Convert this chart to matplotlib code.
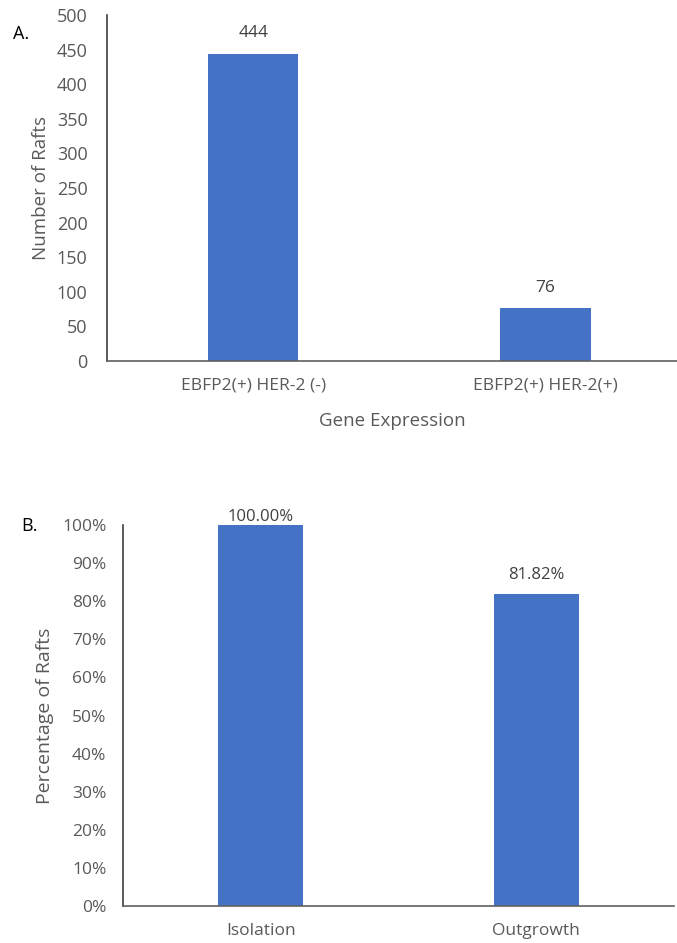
import matplotlib.pyplot as plt
from matplotlib.ticker import FuncFormatter

# Datos del panel A
genes = ["EBFP2(+) HER-2 (-)", "EBFP2(+) HER-2(+)"]
rafts = [444, 76]

# Datos del panel B
stages = ["Isolation", "Outgrowth"]
percent = [100.00, 81.82]

bar_color = "#4472C4"
tick_color = "#595959"
plt.rcParams['font.family'] = ['Open Sans', 'DejaVu Sans']

fig = plt.figure(figsize=(6.77, 9.43), dpi=100)

# Panel A
ax1 = fig.add_axes([107 / 677, 1 - 361 / 943, 570 / 677, 346 / 943])
x1 = range(len(genes))
ax1.bar(x1, rafts, width=0.31, color=bar_color)
for xi, v in zip(x1, rafts):
    ax1.annotate(str(v), (xi, v), xytext=(0, 9), textcoords="offset points",
                 ha="center", va="bottom", fontsize=12.5, color="#404040")
ax1.set_xlim(-0.5, 1.45)
ax1.set_ylim(0, 500)
ax1.set_yticks(range(0, 501, 50))
ax1.set_xticks(list(x1))
ax1.set_xticklabels(genes)
ax1.set_xlabel("Gene Expression", fontsize=13.5, color=tick_color, labelpad=13)
ax1.set_ylabel("Number of Rafts", fontsize=13.5, color=tick_color, labelpad=5)
ax1.text(-0.165, 0.93, "A.", transform=ax1.transAxes, fontsize=13, color="black")

# Panel B
ax2 = fig.add_axes([123 / 677, 1 - 906 / 943, 551 / 677, 381 / 943])
x2 = range(len(stages))
ax2.bar(x2, percent, width=0.31, color=bar_color)
for xi, v in zip(x2, percent):
    off = 0 if v > 95 else 8
    ax2.annotate(f"{v:.2f}%", (xi, v), xytext=(0, off), textcoords="offset points",
                 ha="center", va="bottom", fontsize=12, color="#404040")
ax2.set_xlim(-0.5, 1.5)
ax2.set_ylim(0, 100)
ax2.set_yticks(range(0, 101, 10))
ax2.yaxis.set_major_formatter(FuncFormatter(lambda v, p: f"{v:.0f}%"))
ax2.set_xticks(list(x2))
ax2.set_xticklabels(stages)
ax2.set_ylabel("Percentage of Rafts", fontsize=14, color=tick_color, labelpad=6)
ax2.text(-0.185, 0.985, "B.", transform=ax2.transAxes, fontsize=13, color="black")

for ax, pad, ys in ((ax1, 14, 13), (ax2, 12, 12.5)):
    for s in ("top", "right"):
        ax.spines[s].set_visible(False)
    ax.spines["left"].set_color("#404040")
    ax.spines["bottom"].set_color("#606060")
    ax.spines["left"].set_linewidth(1.2)
    ax.spines["bottom"].set_linewidth(1.2)
    ax.tick_params(axis="y", length=0, pad=pad, labelsize=ys, labelcolor=tick_color)
    ax.tick_params(axis="x", length=0, pad=12, labelsize=12.5, labelcolor=tick_color)

fig.savefig("out.png", dpi=100)
